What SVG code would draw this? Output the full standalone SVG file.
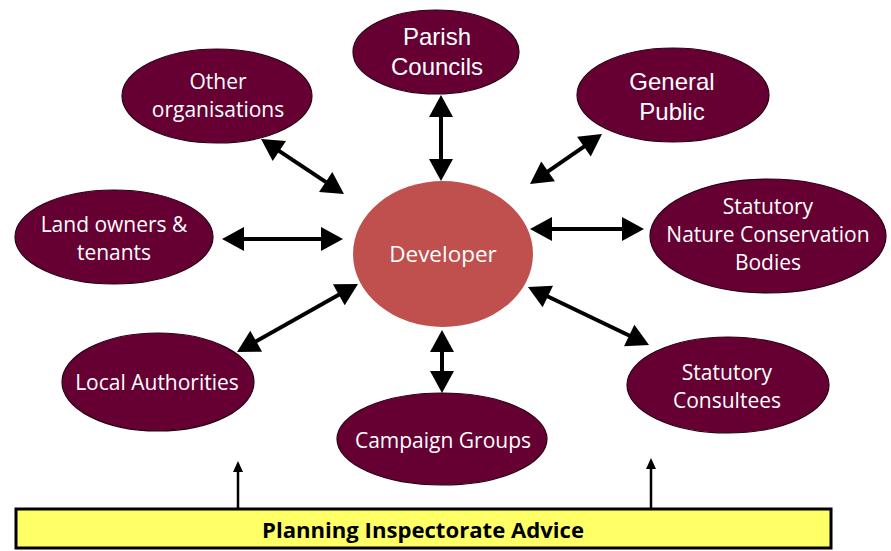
<svg xmlns="http://www.w3.org/2000/svg" width="891" height="551" viewBox="0 0 891 551">
  <defs>
    <!-- big filled arrowhead for the two-way links -->
    <marker id="head" markerUnits="userSpaceOnUse" markerWidth="22" markerHeight="24" refX="4" refY="12" orient="auto-start-reverse" overflow="visible">
      <path d="M0,0 L22,12 L0,24 Z" fill="#000"/>
    </marker>
    <!-- small arrowhead for the advice arrows -->
    <marker id="small" markerUnits="userSpaceOnUse" markerWidth="11" markerHeight="10" refX="2" refY="5" orient="auto" overflow="visible">
      <path d="M0,0 L11,5 L0,10 Z" fill="#000"/>
    </marker>
  </defs>
  <style>
    .party { fill: #660033; stroke: #2a0014; stroke-width: 1.2; }
    .core { fill: #C0504D; }
    .arial { font-family: "Liberation Sans", Arial, sans-serif; font-size: 24px; fill: #fff; text-anchor: middle; }
    .lbl { font-family: "Open Sans", "DejaVu Sans", sans-serif; font-size: 21px; fill: #fff; text-anchor: middle; }
    .link { stroke: #000; stroke-width: 4; fill: none; marker-start: url(#head); marker-end: url(#head); }
    .advice { stroke: #000; stroke-width: 2.5; fill: none; marker-end: url(#small); }
  </style>

  <rect width="891" height="551" fill="#fff"/>

  <g id="connectors">
    <line class="link" x1="441" y1="113" x2="441" y2="163"/>
    <line class="link" x1="276" y1="148.9" x2="329" y2="184.1"/>
    <line class="link" x1="587.2" y1="144.3" x2="544.8" y2="173.7"/>
    <line class="link" x1="548" y1="229" x2="626" y2="229"/>
    <line class="link" x1="240" y1="239" x2="325" y2="239"/>
    <line class="link" x1="342.3" y1="292.8" x2="252.7" y2="343.2"/>
    <line class="link" x1="442" y1="348" x2="442" y2="375"/>
    <line class="link" x1="544.2" y1="294.8" x2="632.8" y2="337.2"/>
    <line class="advice" x1="238" y1="509" x2="238" y2="470"/>
    <line class="advice" x1="651" y1="509" x2="651" y2="467"/>
  </g>

  <g id="developer">
    <ellipse class="core" cx="443" cy="254" rx="90" ry="73"/>
    <text x="443" y="262" font-family="Open Sans, DejaVu Sans, sans-serif" font-size="22.5" fill="#fff" text-anchor="middle">Developer</text>
  </g>

  <g id="parish-councils">
    <ellipse class="party" cx="436" cy="52" rx="83" ry="42"/>
    <text class="arial" x="437" y="45">Parish</text>
    <text class="arial" x="437" y="75">Councils</text>
  </g>

  <g id="other-organisations">
    <ellipse class="party" cx="217" cy="96" rx="95" ry="47"/>
    <text class="lbl" x="218" y="89">Other</text>
    <text class="lbl" x="218" y="117">organisations</text>
  </g>

  <g id="general-public">
    <ellipse class="party" cx="673" cy="95" rx="96" ry="47"/>
    <text class="arial" x="672" y="90">General</text>
    <text class="arial" x="672" y="120">Public</text>
  </g>

  <g id="land-owners">
    <ellipse class="party" cx="114" cy="237" rx="99" ry="47"/>
    <text class="lbl" x="114" y="232">Land owners &amp;</text>
    <text class="lbl" x="114" y="260">tenants</text>
  </g>

  <g id="nature-bodies">
    <ellipse class="party" cx="768" cy="236" rx="118" ry="57"/>
    <text class="lbl" x="768" y="214">Statutory</text>
    <text class="lbl" x="768" y="242">Nature Conservation</text>
    <text class="lbl" x="768" y="270">Bodies</text>
  </g>

  <g id="local-authorities">
    <ellipse class="party" cx="158" cy="382" rx="96" ry="49"/>
    <text class="lbl" x="157" y="390">Local Authorities</text>
  </g>

  <g id="campaign-groups">
    <ellipse class="party" cx="442" cy="439" rx="105" ry="46"/>
    <text class="lbl" x="443" y="448">Campaign Groups</text>
  </g>

  <g id="statutory-consultees">
    <ellipse class="party" cx="728" cy="385" rx="101" ry="48"/>
    <text class="lbl" x="727" y="380">Statutory</text>
    <text class="lbl" x="727" y="408">Consultees</text>
  </g>

  <g id="planning-advice">
    <rect x="16" y="509" width="815" height="39" fill="#FFFF66" stroke="#000" stroke-width="3"/>
    <text x="423" y="538" font-family="Open Sans, DejaVu Sans, sans-serif" font-weight="bold" font-size="22" fill="#000" text-anchor="middle" textLength="322" lengthAdjust="spacingAndGlyphs">Planning Inspectorate Advice</text>
  </g>
</svg>
